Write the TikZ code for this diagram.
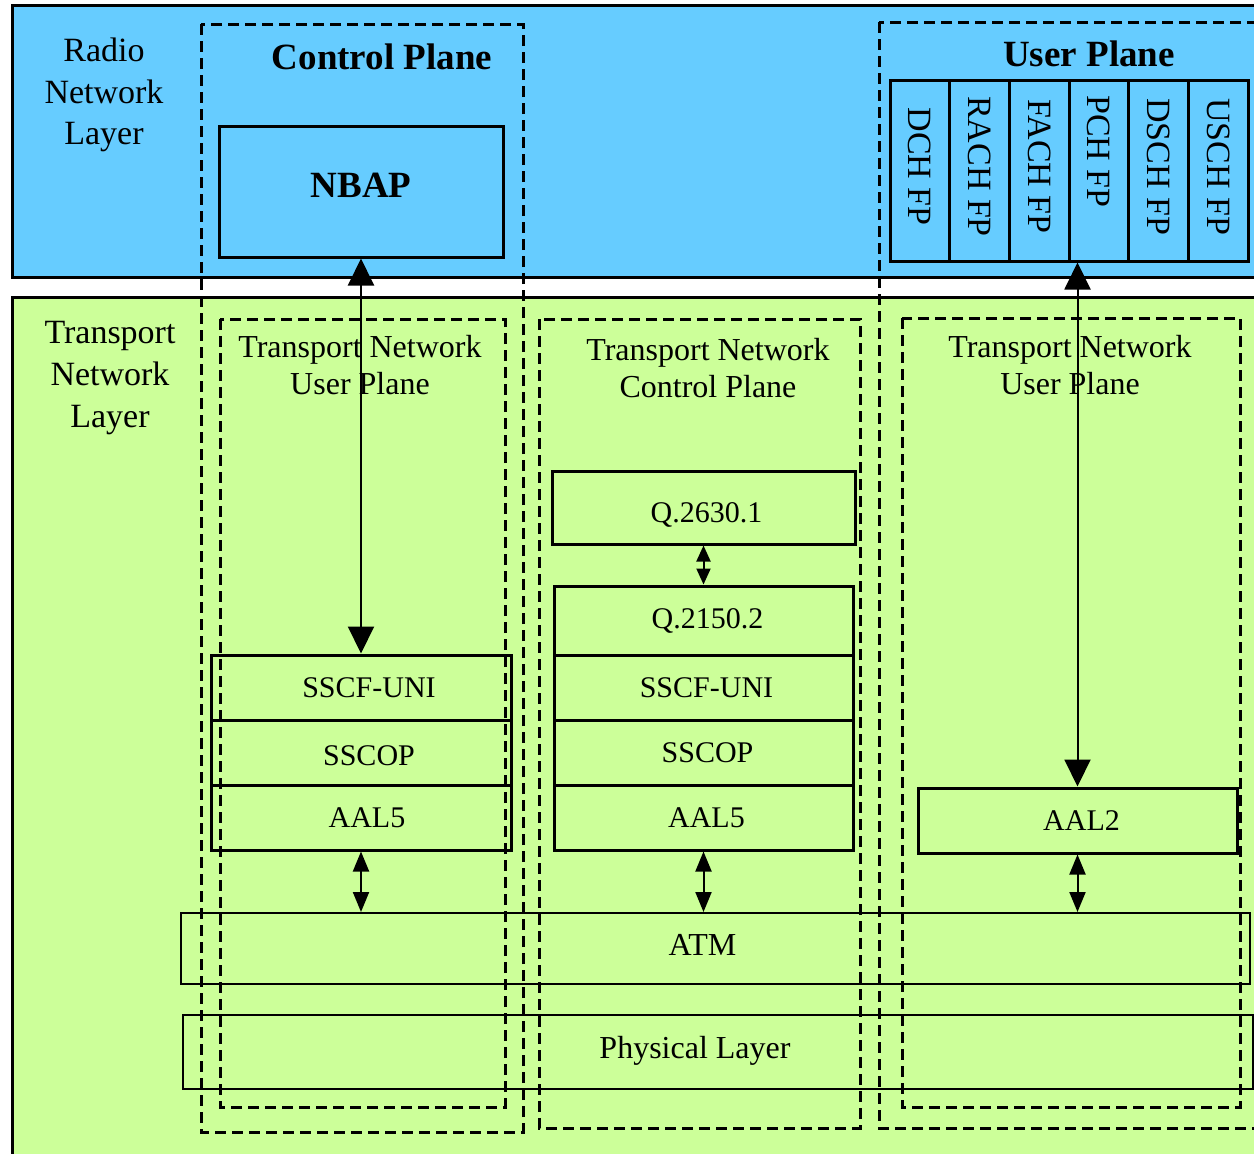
\documentclass[tikz,border=0pt]{standalone}
\usepackage{fontspec}
\setmainfont{Liberation Serif}
\usetikzlibrary{arrows.meta,fit}

\definecolor{radioblue}{RGB}{102,204,255}
\definecolor{transgreen}{RGB}{204,255,153}

\newcommand{\titlefont}{\fontsize{18.5}{22}\selectfont\bfseries}
\newcommand{\layerfont}{\fontsize{17}{20.8}\selectfont}
\newcommand{\planefont}{\fontsize{16}{18.5}\selectfont}
\newcommand{\stackfont}{\fontsize{15}{17}\selectfont}

\tikzset{
	every label/.style = {font=\stackfont, inner sep=0pt},
	layerbox/.style = {draw, line width=1.5pt},
	stackbox/.style = {draw, line width=1.5pt, inner sep=0pt},
	widebox/.style = {draw, line width=1pt, inner sep=0pt},
	widelabel/.style = {font=\planefont},
	planebox/.style = {draw, dash pattern=on 5.5pt off 3pt, line width=1.5pt},
	layertext/.style = {align=center, font=\layerfont, inner sep=0pt},
	planetext/.style = {align=center, font=\planefont, inner sep=0pt},
	titletext/.style = {font=\titlefont, inner sep=0pt},
	fptext/.style = {rotate=-90, font=\layerfont, inner sep=0pt},
	bigarrow/.style = {line width=1pt, {Triangle[length=13.5pt,width=13pt]}-{Triangle[length=13.5pt,width=13pt]}},
	smallarrow/.style = {line width=1pt, {Triangle[length=10pt,width=8pt]}-{Triangle[length=10pt,width=8pt]}},
	qarrow/.style = {line width=1pt, {Triangle[length=8pt,width=7pt]}-{Triangle[length=8pt,width=7pt]}}
}

\begin{document}
\begin{tikzpicture}[x=0.5pt,y=-0.5pt]
	\useasboundingbox (0,0) rectangle (1254,1153);
	\clip (0,0) rectangle (1254,1153);

	% the two layers
	\draw [layerbox, fill=radioblue] (12,5) rectangle (1275,277);
	\draw [layerbox, fill=transgreen] (12,297) rectangle (1275,1175);
	\node [layertext] (radio) at (104,95) {Radio\\Network\\Layer};
	\node [layertext] (transport) at (110,378) {Transport\\Network\\Layer};

	% radio network layer
	\node [titletext] (cptitle) at (382,57) {Control Plane};
	\node [stackbox, fit={(219,126) (503,257)}, label={[font=\titlefont, yshift=3pt]center:NBAP}] (nbap) {};
	\node [titletext] (uptitle) at (1089,54) {User Plane};
	\foreach \name/\dy [count=\i] in {DCH/2,RACH/2,FACH/2,PCH/9.5,DSCH/2,USCH/2} {
		\pgfmathsetmacro\xl{890+(\i-1)*59.7}
		\pgfmathsetmacro\xr{\xl+59.7}
		\node [stackbox, fit={(\xl,80) (\xr,261)}] (fp\i) {};
		\node [fptext] (fplabel\i) at ([yshift=\dy pt]fp\i.center) {\name\ FP};
	}

	% transport network layer
	\node [stackbox, fit={(211,655) (511,720)}, label={[xshift=4pt]center:SSCF-UNI}] (sscfL) {};
	\node [stackbox, fit={(211,720) (511,785)}, label={[xshift=4pt, yshift=-1.5pt]center:SSCOP}] (sscopL) {};
	\node [stackbox, fit={(211,785) (511,850)}, label={[xshift=3pt]center:AAL5}] (aalL) {};

	\node [stackbox, fit={(552,471) (855,544)}, label={[xshift=1.5pt, yshift=-3.5pt]center:Q.2630.1}] (qa) {};
	\node [stackbox, fit={(554,586) (853,655)}, label={[xshift=2pt]center:Q.2150.2}] (qb) {};
	\node [stackbox, fit={(554,655) (853,720)}, label={[xshift=1.5pt]center:SSCF-UNI}] (sscfM) {};
	\node [stackbox, fit={(554,720) (853,785)}, label={[xshift=2pt]center:SSCOP}] (sscopM) {};
	\node [stackbox, fit={(554,785) (853,850)}, label={[xshift=1.5pt]center:AAL5}] (aalM) {};

	\node [stackbox, fit={(918,788) (1237,853)}, label={[xshift=2pt]center:AAL2}] (aaltwo) {};

	\node [widebox, fit={(181,913) (1250,984)}, label={[widelabel, xshift=-6.5pt, yshift=2pt]center:ATM}] (atm) {};
	\node [widebox, fit={(183,1015) (1253,1089)}, label={[widelabel, xshift=-11.5pt, yshift=0.5pt]center:Physical Layer}] (phys) {};

	% planes
	\draw [planebox] (201,24) rectangle (523,1132);
	\draw [planebox] (879,22) rectangle (1280,1128);
	\draw [planebox] (220,319) rectangle (505,1107);
	\draw [planebox] (539,319) rectangle (860,1128);
	\draw [planebox] (902,318) rectangle (1240,1107);
	\node [planetext] (tnupL) at (360,365) {Transport Network\\User Plane};
	\node [planetext] (tncp) at (708,368) {Transport Network\\Control Plane};
	\node [planetext] (tnupR) at (1070,365) {Transport Network\\User Plane};

	% arrows
	\draw [bigarrow] (nbap.south) -- (sscfL.north);
	\draw [bigarrow] (aaltwo.north) -- (aaltwo.north |- fp4.south);
	\draw [qarrow] (qa.south) -- (qb.north);
	\draw [smallarrow] (aalL.south) -- (aalL.south |- atm.north);
	\draw [smallarrow] (aalM.south) -- (aalM.south |- atm.north);
	\draw [smallarrow] (aaltwo.south) -- (aaltwo.south |- atm.north);
\end{tikzpicture}
\end{document}
